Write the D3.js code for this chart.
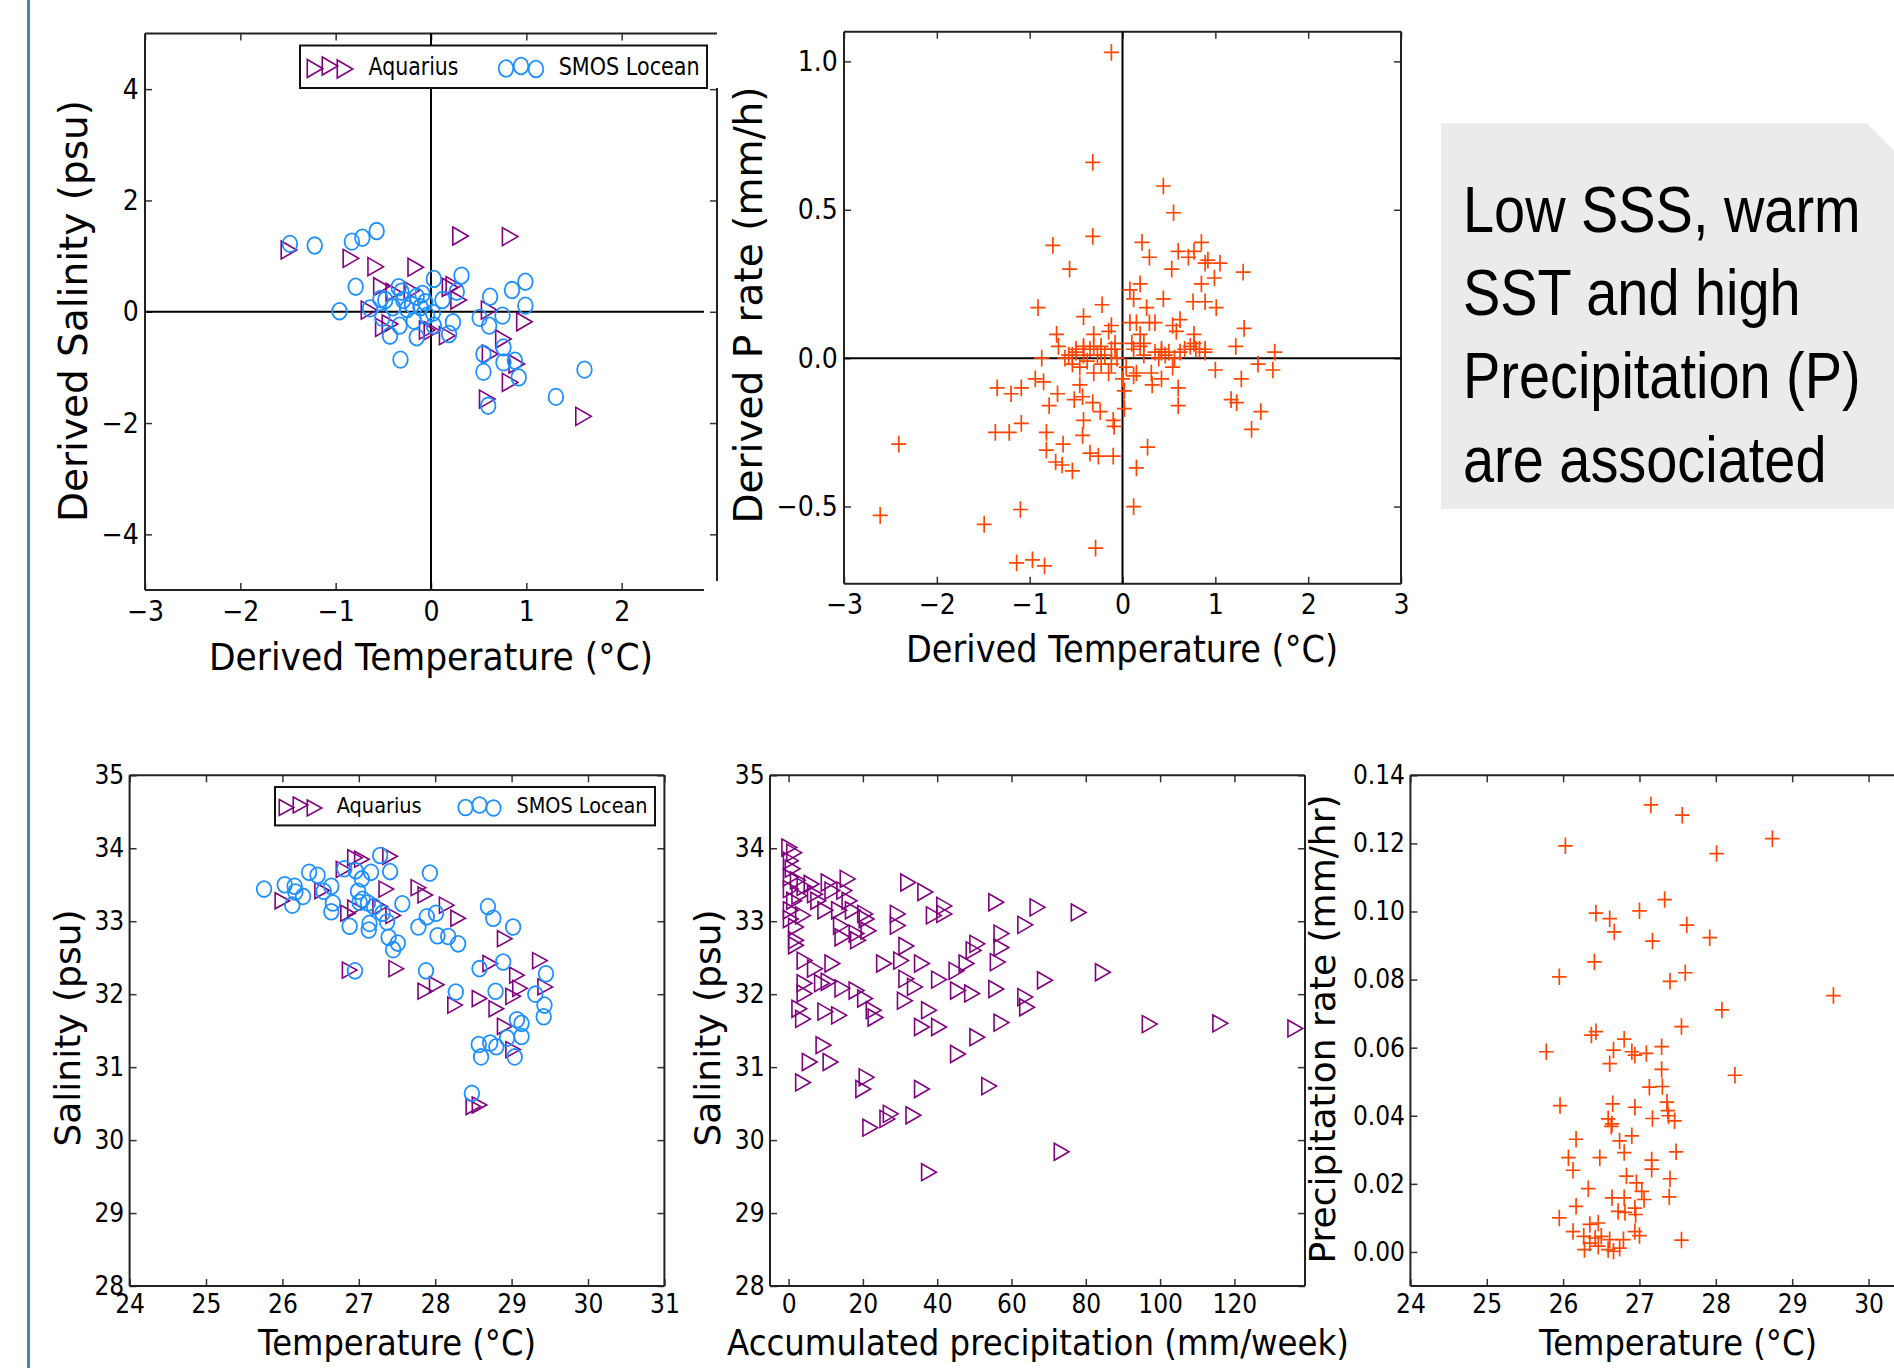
<!DOCTYPE html>
<html>
<head>
<meta charset="utf-8">
<script src="https://cdn.jsdelivr.net/npm/d3@7"></script>
<style>
  body { margin: 0; background: #fff; }
</style>
</head>
<body>
<div id="chart"></div>
<script>
// ---- data ----
// top left: derived temperature vs derived salinity
var derivedAquarius = [[-1.49,1.11],[-0.84,0.96],[-0.58,0.81],[-0.16,0.80],[0.31,1.36],[0.83,1.35],[-0.52,0.45],[0.24,0.47],[0.29,0.21],[-0.65,0.03],[0.61,0.03],[0.98,-0.18],[0.76,-0.49],[0.62,-0.76],[0.90,-0.94],[0.83,-1.27],[0.59,-1.57],[1.60,-1.88],[0.01,-0.34],[0.17,-0.43],[-0.43,-0.22],[-0.50,-0.28],[-0.39,0.35],[-0.04,-0.33],[-0.20,0.38],[0.20,0.44]];
var derivedSmos = [[-1.48,1.22],[-1.22,1.19],[-0.83,1.26],[-0.72,1.33],[-0.57,1.45],[-0.79,0.45],[-0.96,0.01],[-0.64,0.06],[-0.53,0.23],[-0.48,0.21],[-0.34,0.44],[-0.31,0.36],[-0.29,0.21],[-0.15,0.27],[-0.09,0.32],[0.03,0.59],[0.12,0.21],[0.27,0.36],[0.32,0.65],[-0.51,-0.11],[-0.43,-0.43],[-0.33,-0.25],[-0.25,0.05],[-0.18,-0.16],[-0.15,-0.46],[-0.32,-0.86],[-0.04,-0.07],[0.03,-0.25],[0.19,-0.40],[0.23,-0.19],[0.51,-0.11],[0.62,0.27],[0.61,-0.25],[0.75,-0.07],[0.85,0.39],[0.99,0.54],[0.99,0.11],[0.55,-0.76],[0.55,-1.08],[0.76,-0.64],[0.76,-0.91],[0.88,-0.88],[0.92,-1.18],[0.60,-1.69],[1.31,-1.53],[1.61,-1.04],[-0.11,0.08],[-0.40,0.08],[-0.20,0.12],[0.02,-0.02],[-0.06,0.17]];

// top middle: derived temperature vs derived P rate
var derivedPrate = [[-0.12,1.03],[-0.32,0.66],[0.44,0.58],[0.55,0.49],[-0.32,0.41],[-0.75,0.38],[-0.57,0.30],[0.21,0.39],[0.29,0.34],[0.60,0.36],[0.71,0.34],[0.77,0.36],[0.85,0.39],[0.89,0.32],[0.92,0.33],[1.05,0.32],[0.53,0.30],[0.99,0.27],[1.30,0.29],[0.85,0.25],[-0.91,0.17],[-0.22,0.18],[-0.42,0.14],[-0.71,0.08],[-0.69,0.04],[0.19,0.25],[0.08,0.23],[0.12,0.20],[0.44,0.20],[0.76,0.19],[0.89,0.19],[1.01,0.17],[0.26,0.17],[0.62,0.13],[0.54,0.11],[0.58,0.09],[0.77,0.08],[0.77,0.05],[1.31,0.10],[1.22,0.04],[1.64,0.02],[-0.12,0.11],[-0.15,0.09],[-0.31,0.08],[-0.31,0.04],[0.08,0.12],[0.15,0.12],[0.29,0.12],[0.35,0.12],[0.19,0.08],[0.23,0.05],[0.10,0.05],[0.42,0.02],[0.50,0.02],[0.62,0.02],[0.83,0.03],[0.89,0.02],[-0.42,0.03],[-0.50,0.02],[-0.23,0.03],[-0.08,0.03],[0.39,0.00],
  [-0.87,0.00],[1.00,-0.04],[1.28,-0.07],[1.46,-0.02],[1.62,-0.04],[-1.35,-0.10],[-1.20,-0.12],[-1.09,-0.10],[-0.94,-0.07],[-0.85,-0.08],[-0.70,-0.12],[-0.79,-0.16],[-0.52,-0.14],[-0.43,-0.13],[-0.32,-0.15],[-0.24,-0.18],[-0.10,-0.21],[-0.09,-0.23],[0.02,-0.17],[0.02,-0.11],[0.32,-0.09],[0.42,-0.07],[0.60,-0.10],[0.60,-0.16],[1.17,-0.14],[1.23,-0.15],[1.49,-0.18],[1.39,-0.24],[-1.37,-0.25],[-1.22,-0.25],[-1.09,-0.22],[-0.82,-0.25],[-0.64,-0.29],[-0.42,-0.21],[-0.43,-0.26],[-0.82,-0.31],[-0.72,-0.35],[-0.65,-0.36],[-0.54,-0.38],[-0.35,-0.32],[-0.26,-0.33],[-0.10,-0.33],[0.27,-0.30],[0.15,-0.37],[-2.41,-0.29],[-2.61,-0.53],[-1.49,-0.56],[-1.10,-0.51],[0.12,-0.50],[-0.29,-0.64],[-1.14,-0.69],[-0.97,-0.68],[-0.84,-0.70],[-0.46,-0.03],[-0.31,-0.05],[-0.15,-0.05],[0.00,-0.07],[0.12,-0.06],[0.15,-0.05],[0.31,-0.05],[0.54,-0.03],[0.56,0.00],[-0.46,-0.09],[0.04,-0.03],[-0.54,-0.02],[-0.62,0.00],
  [-0.58,0.01],[-0.50,0.03],[-0.42,0.01],[-0.35,0.03],[-0.27,0.01],[-0.19,0.01],[-0.12,0.03],[-0.06,0.00],[-0.38,-0.01],[-0.23,-0.02],[-0.12,-0.02],[-0.54,0.01],[0.12,0.03],[0.23,0.01],[0.35,0.02],[0.46,0.01],[0.67,0.03],[0.73,0.04],[0.79,0.03],[0.89,0.03],[-0.23,0.04],[-0.42,0.04],[-0.08,0.05],[0.19,0.04],[0.42,0.03]];

// bottom left: temperature vs salinity
var tsAquarius = [[26.00,33.28],[26.52,33.42],[26.80,33.71],[26.95,33.87],[27.04,33.85],[27.41,33.89],[27.36,33.44],[27.78,33.46],[27.87,33.36],[28.15,33.22],[28.30,33.04],[26.86,33.11],[26.95,33.18],[27.28,33.20],[27.45,33.08],[27.49,32.35],[26.88,32.33],[27.87,32.04],[28.02,32.13],[28.26,31.85],[28.58,31.94],[28.80,31.80],[28.91,32.76],[28.72,32.42],[29.07,32.26],[29.37,32.46],[29.02,31.97],[29.11,32.08],[29.44,32.10],[28.91,31.56],[29.02,31.24],[28.50,30.46],[28.58,30.48]];
var tsSmos = [[25.76,33.44],[26.03,33.50],[26.16,33.48],[26.13,33.22],[26.27,33.34],[26.35,33.67],[26.46,33.63],[26.54,33.41],[26.64,33.48],[26.66,33.25],[26.64,33.13],[26.81,33.72],[26.96,33.69],[27.16,33.67],[27.28,33.90],[27.41,33.68],[27.04,33.58],[26.99,33.41],[27.01,33.26],[27.12,33.25],[26.88,32.93],[27.14,32.97],[27.13,32.88],[27.31,33.11],[27.37,32.99],[27.39,32.78],[27.45,32.61],[27.51,32.70],[27.57,33.24],[27.93,33.66],[27.78,32.92],[27.89,33.06],[28.01,33.11],[28.03,32.80],[28.17,32.79],[28.30,32.69],[26.95,32.32],[27.88,32.32],[28.27,32.03],[28.69,33.20],[28.76,33.04],[29.02,32.92],[28.58,32.35],[28.89,32.44],[28.79,32.04],[29.31,32.00],[29.45,32.28],[29.43,31.85],[29.42,31.69],[29.07,31.65],[29.13,31.60],[29.13,31.42],[28.94,31.40],[28.80,31.28],[28.72,31.33],[28.57,31.31],[28.60,31.14],[29.04,31.14],[28.48,30.64],[26.17,33.40],[27.20,33.20],[27.05,33.30]];

// bottom middle: accumulated precipitation vs salinity (Aquarius)
var precipSalinity = [[0.2,34.01],[1.5,33.94],[0.6,33.83],[1.1,33.72],[0.6,33.60],[2.5,33.56],[0.6,33.44],[2.9,33.35],[1.5,33.28],[4.3,33.47],[6.2,33.51],[0.6,33.15],[3.9,33.08],[0.6,33.03],[2.0,32.92],[2.0,32.74],[2.0,32.67],[7.1,33.37],[8.0,33.28],[10.8,33.53],[11.8,33.42],[15.9,33.58],[15.0,33.42],[16.4,33.28],[17.3,33.15],[13.6,33.15],[9.9,33.15],[14.1,32.94],[14.5,32.78],[18.3,32.83],[20.6,33.10],[21.0,33.03],[21.5,32.87],[18.7,32.74],[32.2,33.53],[36.8,33.40],[41.9,33.21],[41.9,33.10],[29.4,33.10],[29.4,32.94],[39.1,33.08],[55.9,33.26],[67.0,33.19],[78.1,33.12],[63.7,32.95],[57.3,32.83],[57.3,32.64],[56.3,32.44],[50.8,32.69],[49.8,32.60],[47.9,32.42],[45.2,32.32],[84.6,32.30],[69.0,32.19],[4.3,32.46],[7.1,32.35],[11.8,32.42],[25.7,32.42],[30.3,32.46],[31.7,32.66],[35.9,32.42],[31.7,32.21],[34.0,32.10],[4.3,32.15],[4.3,32.01],[9.0,32.15],[10.8,32.17],[14.5,32.08],[18.3,32.05],[20.6,31.94],[22.9,31.78],[23.4,31.68],[2.9,31.80],[3.9,31.66],[9.9,31.76],[13.6,31.71],[31.3,31.91],[37.8,31.78],[35.9,31.55],[40.5,31.55],[40.5,32.20],[45.6,32.05],[49.4,32.01],[55.9,32.07],[63.7,31.96],[64.2,31.82],[57.3,31.61],[50.8,31.41],[45.6,31.18],[97.2,31.59],[116.2,31.60],[136.4,31.53],[9.4,31.30],[5.7,31.07],[11.3,31.07],[3.9,30.79],[21.0,30.86],[20.1,30.70],[35.9,30.70],[54.0,30.74],[27.5,30.36],[26.6,30.29],[33.6,30.34],[22.0,30.17],[73.5,29.84],[37.8,29.56]];

// bottom right: temperature vs precipitation rate
var tempPrate = [[27.15,0.1313],[27.56,0.1283],[26.03,0.1193],[28.74,0.1214],[28.01,0.1170],[27.33,0.1035],[26.43,0.0995],[26.61,0.0979],[27.00,0.1002],[26.67,0.0940],[27.62,0.0960],[27.17,0.0913],[27.92,0.0923],[26.41,0.0852],[25.95,0.0808],[27.40,0.0795],[27.60,0.0820],[29.54,0.0753],[28.08,0.0711],[27.55,0.0662],[26.37,0.0637],[26.43,0.0647],[25.78,0.0588],[26.80,0.0625],[26.66,0.0593],[26.90,0.0588],[26.94,0.0578],[27.09,0.0583],[27.29,0.0603],[26.61,0.0553],[27.29,0.0536],[28.25,0.0519],[27.13,0.0484],[27.30,0.0486],[25.96,0.0430],[26.65,0.0435],[26.94,0.0425],[27.36,0.0440],[27.37,0.0415],[27.17,0.0392],[27.38,0.0400],[27.46,0.0385],[26.59,0.0391],[26.63,0.0369],[26.64,0.0376],[26.90,0.0341],[26.74,0.0326],[26.17,0.0331],[26.80,0.0292],[27.48,0.0294],[26.07,0.0277],[26.48,0.0277],[26.13,0.0240],[27.16,0.0270],[27.16,0.0243],[27.40,0.0215],[26.83,0.0223],[26.96,0.0203],[27.03,0.0178],[26.33,0.0186],[27.39,0.0162],[26.64,0.0159],[26.80,0.0159],[27.06,0.0154],[26.17,0.0134],[26.94,0.0129],[26.72,0.0119],[26.81,0.0116],[26.95,0.0110],[25.95,0.0100],[26.13,0.0060],[26.35,0.0081],[26.46,0.0085],[26.94,0.0060],[27.00,0.0048],[27.55,0.0035],[26.27,0.0046],[26.42,0.0041],[26.50,0.0046],[26.61,0.0036],[26.79,0.0036],[26.35,0.0026],[26.46,0.0017],[26.28,0.0007],[26.59,0.0007],[26.66,0.0002],[26.74,0.0011]];

// tick values
var derivedTicks = [-3, -2, -1, 0, 1, 2, 3];
var salinityDerivedTicks = [-4, -2, 0, 2, 4];
var prateDerivedTicks = [-0.5, 0.0, 0.5, 1.0];
var tempTicks = [24, 25, 26, 27, 28, 29, 30, 31];
var salinityTicks = [28, 29, 30, 31, 32, 33, 34, 35];
var accumTicks = [0, 20, 40, 60, 80, 100, 120];
var prateTicks = [0.00, 0.02, 0.04, 0.06, 0.08, 0.10, 0.12, 0.14];

var legendNames = ["Aquarius", "SMOS Locean"];
var noteLines = ["Low SSS, warm", "SST and high", "Precipitation (P)", "are associated"];

// ---- styles ----
var PURPLE = "#800080", BLUE = "#1e90ff", ORANGE = "#ff4500";
var FONT = "DejaVu Sans, Bitstream Vera Sans, sans-serif";

var svg = d3.select("#chart").append("svg")
    .attr("width", 1894)
    .attr("height", 1368);

svg.append("rect").attr("width", 1894).attr("height", 1368).attr("fill", "#fff");

// slide margin line at left
svg.append("line")
    .attr("x1", 28.5).attr("x2", 28.5).attr("y1", 0).attr("y2", 1368)
    .attr("stroke", "#4f7fb8").attr("stroke-width", 3);

function triPath(w, h) {
    return "M" + (-w / 2) + "," + (-h / 2) + "L" + (w / 2) + ",0L" + (-w / 2) + "," + (h / 2) + "Z";
}
function plusPath(w, h) {
    return "M" + (-w / 2) + ",0H" + (w / 2) + "M0," + (-h / 2) + "V" + (h / 2);
}

function makePanel(p) {
    var x = d3.scaleLinear().domain(p.xDomain).range([p.left, p.right]);
    var y = d3.scaleLinear().domain(p.yDomain).range([p.bottom, p.top]);
    var g = svg.append("g");

    // axes with inward ticks
    var bottom = g.append("g").attr("transform", "translate(0," + p.bottom + ")")
        .call(d3.axisBottom(x).tickValues(p.xTicks).tickFormat(p.xFormat)
            .tickSizeInner(-7).tickSizeOuter(0).tickPadding(p.xPad));
    var left = g.append("g").attr("transform", "translate(" + p.left + ",0)")
        .call(d3.axisLeft(y).tickValues(p.yTicks).tickFormat(p.yFormat)
            .tickSizeInner(-7).tickSizeOuter(0).tickPadding(p.yPad));
    var top = g.append("g").attr("transform", "translate(0," + p.top + ")")
        .call(d3.axisTop(x).tickValues(p.xTicks).tickFormat("")
            .tickSizeInner(-7).tickSizeOuter(0));
    var right = g.append("g").attr("transform", "translate(" + p.right + ",0)")
        .call(d3.axisRight(y).tickValues(p.yTicks).tickFormat("")
            .tickSizeInner(-7).tickSizeOuter(0));

    [bottom, left, top, right].forEach(function(a) {
        a.select(".domain").remove();
        a.selectAll("line").attr("stroke", "#333").attr("stroke-width", 1.5);
        a.selectAll("text")
            .attr("font-family", FONT)
            .attr("font-size", p.tickSize)
            .attr("fill", "#000")
            .attr("transform", "scale(" + p.squish + ",1)");
    });

    // frame
    var fr = p.frame || {};
    var spines = [
        [p.left, p.top, p.left, p.bottom],
        [p.left, p.top, p.right, p.top],
        [p.left, p.bottom, fr.bottomEnd || p.right, p.bottom],
        [p.right, fr.rightTop || p.top, p.right, fr.rightBottom || p.bottom]
    ];
    g.selectAll("line.spine").data(spines).enter().append("line")
        .attr("class", "spine")
        .attr("x1", d => d[0]).attr("y1", d => d[1])
        .attr("x2", d => d[2]).attr("y2", d => d[3])
        .attr("stroke", "#222").attr("stroke-width", 2);

    if (p.zeroLines) {
        g.append("line").attr("x1", p.left).attr("x2", fr.bottomEnd || p.right)
            .attr("y1", y(0)).attr("y2", y(0)).attr("stroke", "#000").attr("stroke-width", 2);
        g.append("line").attr("x1", x(0)).attr("x2", x(0))
            .attr("y1", p.top).attr("y2", p.bottom).attr("stroke", "#000").attr("stroke-width", 2);
    }

    // axis titles
    g.append("text")
        .attr("x", (p.left + p.right) / 2 + (p.xLabelShift || 0))
        .attr("y", p.xLabelY)
        .attr("text-anchor", "middle")
        .attr("font-family", FONT)
        .attr("font-size", p.xLabelSize)
        .attr("textLength", p.xLabelLen)
        .attr("lengthAdjust", "spacingAndGlyphs")
        .text(p.xLabel);
    g.append("text")
        .attr("transform", "translate(" + p.yLabelX + "," + p.yLabelY + ")rotate(-90)")
        .attr("text-anchor", "middle")
        .attr("font-family", FONT)
        .attr("font-size", p.yLabelSize)
        .text(p.yLabel);

    return { x: x, y: y, g: g };
}

function drawTriangles(panel, data, w, h) {
    panel.g.selectAll(null).data(data).enter().append("path")
        .attr("d", triPath(w, h))
        .attr("transform", d => "translate(" + panel.x(d[0]) + "," + panel.y(d[1]) + ")")
        .attr("fill", "none").attr("stroke", PURPLE).attr("stroke-width", 1.6);
}
function drawCircles(panel, data, rx, ry) {
    panel.g.selectAll(null).data(data).enter().append("ellipse")
        .attr("cx", d => panel.x(d[0])).attr("cy", d => panel.y(d[1]))
        .attr("rx", rx).attr("ry", ry)
        .attr("fill", "none").attr("stroke", BLUE).attr("stroke-width", 1.8);
}
function drawPlus(panel, data, w, h) {
    panel.g.selectAll(null).data(data).enter().append("path")
        .attr("d", plusPath(w, h))
        .attr("transform", d => "translate(" + panel.x(d[0]) + "," + panel.y(d[1]) + ")")
        .attr("fill", "none").attr("stroke", ORANGE).attr("stroke-width", 1.7);
}

function drawLegend(L) {
    var g = svg.append("g");
    g.append("rect").attr("x", L.x0).attr("y", L.y0)
        .attr("width", L.x1 - L.x0).attr("height", L.y1 - L.y0)
        .attr("fill", "#fff").attr("stroke", "#111").attr("stroke-width", 2);
    var offs = [1.5, -1, 2];
    L.triX.forEach(function(cx, i) {
        g.append("path").attr("d", triPath(L.tw, L.th))
            .attr("transform", "translate(" + cx + "," + (L.cy + offs[i]) + ")")
            .attr("fill", "none").attr("stroke", PURPLE).attr("stroke-width", 1.6);
    });
    L.circX.forEach(function(cx, i) {
        g.append("ellipse").attr("cx", cx).attr("cy", L.cy + offs[i])
            .attr("rx", L.rx).attr("ry", L.ry)
            .attr("fill", "none").attr("stroke", BLUE).attr("stroke-width", 1.8);
    });
    [[L.t1x, L.t1w, legendNames[0]], [L.t2x, L.t2w, legendNames[1]]].forEach(function(t) {
        g.append("text").attr("x", t[0]).attr("y", L.base)
            .attr("font-family", FONT).attr("font-size", L.fs)
            .attr("textLength", t[1]).attr("lengthAdjust", "spacingAndGlyphs")
            .text(t[2]);
    });
}

var intFmt = d3.format("d");

// ---- panel 1 ----
var p1 = makePanel({
    left: 145, right: 717, top: 33.5, bottom: 590,
    xDomain: [-3, 3], yDomain: [-5, 5],
    xTicks: derivedTicks.slice(0, 6), yTicks: salinityDerivedTicks,
    xFormat: intFmt, yFormat: intFmt, xPad: 11, yPad: 7,
    tickSize: 28, squish: 0.9,
    frame: { bottomEnd: 704, rightTop: 88, rightBottom: 581 },
    zeroLines: true,
    xLabel: "Derived Temperature (°C)", xLabelY: 670, xLabelSize: 37, xLabelLen: 444, xLabelShift: 0,
    yLabel: "Derived Salinity (psu)", yLabelX: 87, yLabelY: 311, yLabelSize: 39
});
drawTriangles(p1, derivedAquarius, 15.5, 18);
drawCircles(p1, derivedSmos, 7.3, 8.3);
drawLegend({ x0: 300, y0: 45.5, x1: 707, y1: 88, cy: 67,
    triX: [315, 330, 345], tw: 15.5, th: 18,
    circX: [506, 521, 536], rx: 7.3, ry: 8.3,
    t1x: 368.5, t1w: 90, t2x: 558.7, t2w: 141, base: 75, fs: 25 });

// ---- panel 2 ----
var p2 = makePanel({
    left: 844, right: 1401, top: 31.7, bottom: 583.7,
    xDomain: [-3, 3], yDomain: [-0.76, 1.1],
    xTicks: derivedTicks, yTicks: prateDerivedTicks,
    xFormat: intFmt, yFormat: d3.format(".1f"), xPad: 10, yPad: 7,
    tickSize: 28, squish: 0.9,
    zeroLines: true,
    xLabel: "Derived Temperature (°C)", xLabelY: 662, xLabelSize: 37, xLabelLen: 432, xLabelShift: -0.5,
    yLabel: "Derived P rate (mm/h)", yLabelX: 762, yLabelY: 305, yLabelSize: 39
});
drawPlus(p2, derivedPrate, 15, 16.7);

// ---- note box ----
svg.append("path")
    .attr("d", "M1441,123.3H1866.7L1894,150.6V509H1441Z")
    .attr("fill", "#ebebeb");
svg.append("g").selectAll("text").data(noteLines).enter().append("text")
    .attr("transform", (d, i) => "translate(1463," + (231.7 + i * 83.3) + ")scale(0.86,1)")
    .attr("font-family", "Liberation Sans, Arial, sans-serif")
    .attr("font-size", 65)
    .attr("fill", "#000")
    .text(d => d);

// ---- panel 3 ----
var p3 = makePanel({
    left: 129.6, right: 664.4, top: 775.3, bottom: 1286,
    xDomain: [24, 31], yDomain: [28, 35],
    xTicks: tempTicks, yTicks: salinityTicks,
    xFormat: intFmt, yFormat: intFmt, xPad: 9, yPad: 6,
    tickSize: 26, squish: 0.9,
    xLabel: "Temperature (°C)", xLabelY: 1355, xLabelSize: 35, xLabelLen: 278, xLabelShift: 0,
    yLabel: "Salinity (psu)", yLabelX: 80, yLabelY: 1028, yLabelSize: 36
});
drawTriangles(p3, tsAquarius, 14.5, 16);
drawCircles(p3, tsSmos, 7.3, 7.9);
drawLegend({ x0: 275, y0: 787, x1: 655, y1: 825.4, cy: 806,
    triX: [286.5, 300.5, 314.5], tw: 14.5, th: 16,
    circX: [465.5, 479.5, 493.5], rx: 7.2, ry: 7.8,
    t1x: 336.7, t1w: 85, t2x: 516.5, t2w: 131, base: 813, fs: 22 });

// ---- panel 4 ----
var p4 = makePanel({
    left: 770, right: 1305, top: 775.3, bottom: 1286,
    xDomain: [-5, 139], yDomain: [28, 35],
    xTicks: accumTicks, yTicks: salinityTicks,
    xFormat: intFmt, yFormat: intFmt, xPad: 9, yPad: 6,
    tickSize: 26, squish: 0.9,
    xLabel: "Accumulated precipitation (mm/week)", xLabelY: 1355, xLabelSize: 35, xLabelLen: 622, xLabelShift: 0.5,
    yLabel: "Salinity (psu)", yLabelX: 720, yLabelY: 1028, yLabelSize: 36
});
drawTriangles(p4, precipSalinity, 14.8, 17);

// ---- panel 5 ----
var p5 = makePanel({
    left: 1410.4, right: 1944.9, top: 775.3, bottom: 1286,
    xDomain: [24, 31], yDomain: [-0.01, 0.14],
    xTicks: tempTicks, yTicks: prateTicks,
    xFormat: intFmt, yFormat: d3.format(".2f"), xPad: 9, yPad: 6,
    tickSize: 26, squish: 0.9,
    xLabel: "Temperature (°C)", xLabelY: 1355, xLabelSize: 35, xLabelLen: 278, xLabelShift: -(1677.6 - 1678),
    yLabel: "Precipitation rate (mm/hr)", yLabelX: 1335, yLabelY: 1029, yLabelSize: 36
});
// x label of panel 5 sits under the visible part, not the full (cropped) axis
p5.g.selectAll("text").filter(function() { return d3.select(this).text() === "Temperature (°C)"; })
    .attr("x", 1678);
drawPlus(p5, tempPrate, 14.5, 16.5);
</script>
</body>
</html>
